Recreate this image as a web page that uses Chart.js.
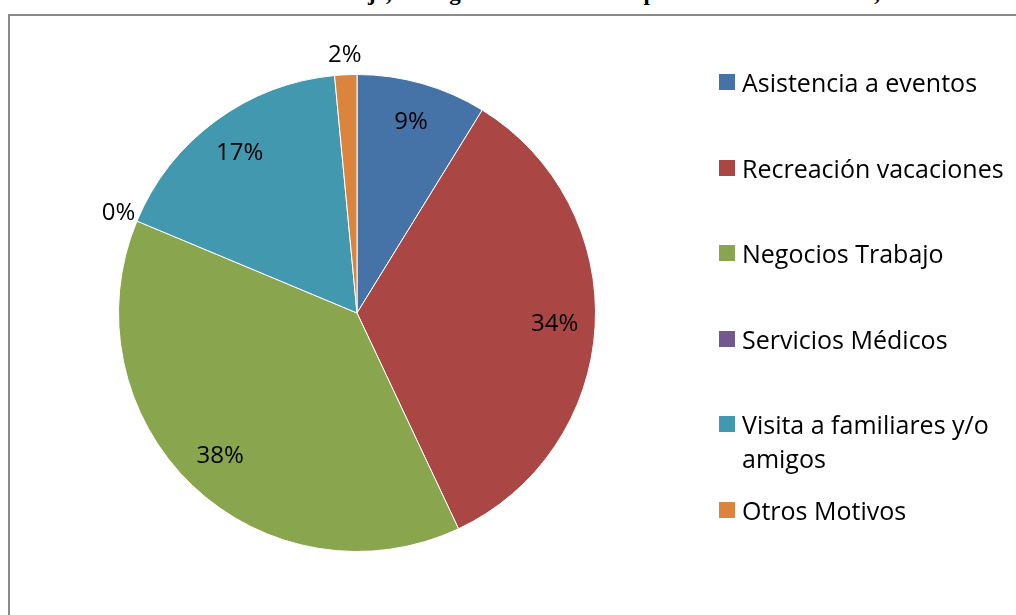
<!DOCTYPE html>
<html lang="es">
<head>
<meta charset="utf-8">
<title>Motivo de viaje</title>
<script src="https://cdn.jsdelivr.net/npm/chart.js@4"></script>
<style>
  html, body { margin: 0; padding: 0; background: #fff; overflow: hidden; }
  body { width: 1016px; height: 615px; position: relative; font-family: "Open Sans", Lato, sans-serif; }
  #title {
    position: absolute; left: 0; width: 1050px; top: -20px; line-height: 22px; text-align: center;
    font: bold 23px "Liberation Serif", "DejaVu Serif", serif; color: #000; white-space: nowrap;
  }
  #frame {
    position: absolute; left: 8px; top: 14px; width: 1100px; height: 700px;
    border: 2px solid #8a8a8a; background: #fff;
  }
  #wrap { position: absolute; left: 0; top: 0; width: 1016px; height: 615px; }
  #legend { position: absolute; left: 0; top: 0; }
  .item { position: absolute; left: 719px; width: 295px; font-size: 25px; line-height: 34px; color: #000; }
  .item .sw { position: absolute; left: 0; top: 9px; width: 16px; height: 16px; }
  .item .tx { position: absolute; left: 23px; width: 272px; white-space: normal; }
</style>
</head>
<body>
<div id="frame"></div>
<div id="title">Gráfico 38. Motivo de viaje, de llegada de los turistas provenientes de México, 2013</div>
<div id="wrap"><canvas id="pie" width="1016" height="615"></canvas></div>
<div id="legend"></div>
<script>
// Data
const categories = ['Asistencia a eventos', 'Recreación vacaciones', 'Negocios Trabajo', 'Servicios Médicos', 'Visita a familiares y/o amigos', 'Otros Motivos'];
const shares = [8.8, 34.2, 38.3, 0.0, 17.2, 1.5];
const colors = ['#4572A7', '#AA4643', '#89A54E', '#71588F', '#4198AF', '#DB843D'];

// HTML legend built from the same arrays
const legend = document.getElementById('legend');
categories.forEach(function(name, i) {
    const item = document.createElement('div');
    item.className = 'item';
    item.style.top = (65 + 85.6 * i) + 'px';
    item.innerHTML = '<span class="sw" style="background:' + colors[i] + '"></span><span class="tx">' + name + '</span>';
    legend.appendChild(item);
});

// Percent labels: inside for big slices, outside for tiny ones
const pieLabels = {
    id: 'pieLabels',
    afterDatasetsDraw(chart) {
        const ctx = chart.ctx;
        const meta = chart.getDatasetMeta(0);
        const data = chart.data.datasets[0].data;
        const total = data.reduce(function(a, b) { return a + b; }, 0);
        ctx.save();
        ctx.font = '24px "Open Sans", Lato, sans-serif';
        ctx.fillStyle = '#000';
        ctx.textAlign = 'center';
        ctx.textBaseline = 'middle';
        meta.data.forEach(function(arc, i) {
            const p = arc.getProps(['x', 'y', 'startAngle', 'endAngle', 'outerRadius'], true);
            const mid = (p.startAngle + p.endAngle) / 2;
            const pct = data[i] / total * 100;
            const dist = pct < 4 ? p.outerRadius + 20 : p.outerRadius * 0.83;
            const x = p.x + Math.cos(mid) * dist;
            const y = p.y + Math.sin(mid) * dist;
            ctx.fillText(Math.round(pct) + '%', x, y);
        });
        ctx.restore();
    }
};

new Chart(document.getElementById('pie'), {
    type: 'pie',
    data: {
        labels: categories,
        datasets: [{
            data: shares,
            backgroundColor: colors,
            borderColor: '#ffffff',
            borderWidth: 1,
            hoverOffset: 0
        }]
    },
    options: {
        responsive: false,
        animation: false,
        layout: { padding: { left: 118, top: 74, right: 420, bottom: 63 } },
        plugins: {
            legend: { display: false },
            tooltip: { enabled: false },
            title: { display: false }
        }
    },
    plugins: [pieLabels]
});
</script>
</body>
</html>
